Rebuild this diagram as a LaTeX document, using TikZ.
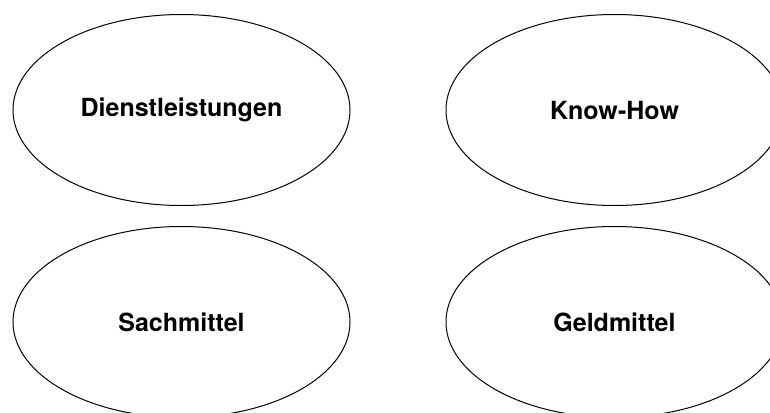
\documentclass[tikz,border=0pt]{standalone}
\usepackage{fontspec}
\setsansfont{TeX Gyre Heros}
\usepackage{tikz}
\usetikzlibrary{shapes, shapes.geometric, positioning}

\begin{document}
\begin{tikzpicture}[
        x=1pt, y=-1pt,
        node distance=20pt and 95pt,
        font=\sffamily\bfseries\fontsize{25}{30}\selectfont,
        resource/.style={ellipse, draw=black, line width=1pt, fill=white, minimum width=337pt, minimum height=191pt, align=center}
    ]
        \useasboundingbox (0,0) rectangle (770,412);
        \node[resource] (service) at (181.5,110) {Dienstleistungen};
        \node[resource, right=of service] (knowhow) {Know-How};
        \node[resource, below=of service] (goods) {Sachmittel};
        \node[resource, below=of knowhow] (money) {Geldmittel};
    \end{tikzpicture}
\end{document}
